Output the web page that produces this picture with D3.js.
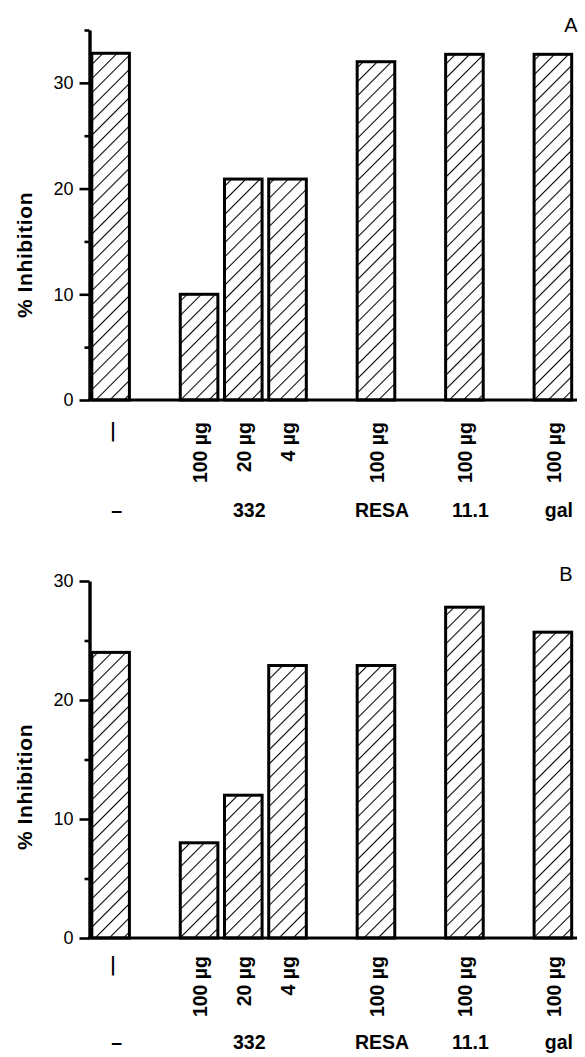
<!DOCTYPE html>
<html>
<head>
<meta charset="utf-8">
<script src="https://cdn.jsdelivr.net/npm/d3@7"></script>
<style>
  html, body { margin: 0; padding: 0; background: #fff; }
</style>
</head>
<body>
<div id="chart"></div>
<script>
(function() {
  var FONT = '"Liberation Sans", Arial, Helvetica, sans-serif';

  // slot index on the x axis for each bar (empty slots make the gaps)
  var slots = [0, 2, 3, 4, 6, 8, 10];
  var doseLabels = ['\u2014', '100 \u00b5g', '20 \u00b5g', '4 \u00b5g', '100 \u00b5g', '100 \u00b5g', '100 \u00b5g'];
  var groupNames = ['\u2013', '332', 'RESA', '11.1', 'gal'];
  var groupSlots = [0, 3, 6, 8, 10];

  var valuesA = [32.8, 10, 20.9, 20.9, 32, 32.7, 32.7];
  var valuesB = [24, 8, 12, 22.9, 22.9, 27.8, 25.7];

  var majorTicks = [0, 10, 20, 30];
  var minorTicksA = [5, 15, 25, 35];
  var minorTicksB = [5, 15, 25];

  var w = 585, h = 1057;
  var svg = d3.select('#chart').append('svg').attr('width', w).attr('height', h);

  // hatch fill
  svg.append('defs').append('pattern')
    .attr('id', 'hatch').attr('patternUnits', 'userSpaceOnUse')
    .attr('width', 10).attr('height', 10)
    .attr('patternTransform', 'rotate(45)')
    .call(function(p) {
      p.append('rect').attr('width', 10).attr('height', 10).attr('fill', '#fff');
      p.append('line').attr('x1', 0).attr('y1', 0).attr('x2', 0).attr('y2', 10)
        .attr('stroke', '#000').attr('stroke-width', 2.1);
    });

  var x = d3.scaleBand().domain(d3.range(11)).range([88.5, 575])
    .paddingInner(0.15).paddingOuter(0.075);
  var bw = x.bandwidth();

  var panels = [
    { letter: 'A', values: valuesA, max: 35, minor: minorTicksA, top: 30, base: 400,
      letterX: 571, letterY: 32, titleY: 255, doseOff: 22, groupOff: 117 },
    { letter: 'B', values: valuesB, max: 30, minor: minorTicksB, top: 581, base: 938,
      letterX: 566, letterY: 581, titleY: 787, doseOff: 18, groupOff: 111 }
  ];

  panels.forEach(function(p) {
    var y = d3.scaleLinear().domain([0, p.max]).range([p.base, p.top]);
    var g = svg.append('g');

    // bars
    p.values.forEach(function(v, i) {
      g.append('rect')
        .attr('x', x(slots[i])).attr('y', y(v))
        .attr('width', bw).attr('height', y(0) - y(v))
        .attr('fill', 'url(#hatch)')
        .attr('stroke', '#000').attr('stroke-width', 3);
    });

    // x baseline
    g.append('line').attr('x1', 88).attr('x2', 577)
      .attr('y1', y(0)).attr('y2', y(0))
      .attr('stroke', '#000').attr('stroke-width', 3.2);

    // y axis, major ticks
    g.append('g').attr('transform', 'translate(89.5,0)')
      .call(d3.axisLeft(y).tickValues(majorTicks).tickSize(10).tickSizeOuter(0).tickPadding(6))
      .call(function(a) { a.select('.domain').attr('stroke', '#000').attr('stroke-width', 3.4); })
      .call(function(a) { a.selectAll('.tick line').attr('stroke', '#000').attr('stroke-width', 2.6); })
      .call(function(a) { a.selectAll('.tick text').attr('fill', '#000').attr('font-size', '18px')
        .attr('font-family', FONT); });

    // minor ticks
    g.append('g').attr('transform', 'translate(89.5,0)')
      .call(d3.axisLeft(y).tickValues(p.minor).tickSize(5).tickFormat(''))
      .call(function(a) { a.select('.domain').remove(); })
      .call(function(a) { a.selectAll('.tick line').attr('stroke', '#000').attr('stroke-width', 2.6); });

    // y title
    svg.append('text')
      .attr('transform', 'translate(25,' + p.titleY + ') rotate(-90)')
      .attr('dy', '0.35em').attr('text-anchor', 'middle')
      .attr('font-family', FONT).attr('font-size', '21px').attr('font-weight', 'bold')
      .attr('letter-spacing', '0.6px')
      .text('% Inhibition');

    // panel letter
    svg.append('text').attr('x', p.letterX).attr('y', p.letterY)
      .attr('text-anchor', 'middle').attr('font-family', FONT).attr('font-size', '20px')
      .text(p.letter);

    // dose labels (rotated)
    doseLabels.forEach(function(t, i) {
      var cx = x(slots[i]) + bw / 2;
      svg.append('text')
        .attr('transform', 'translate(' + (cx + 1) + ',' + (y(0) + p.doseOff) + ') rotate(-90)')
        .attr('dy', '0.35em').attr('text-anchor', 'end')
        .attr('font-family', FONT).attr('font-size', '19.5px').attr('font-weight', 'bold')
        .text(t);
    });

    // group labels
    groupNames.forEach(function(t, i) {
      var cx = x(groupSlots[i]) + bw / 2;
      svg.append('text')
        .attr('x', cx + 6).attr('y', y(0) + p.groupOff)
        .attr('text-anchor', 'middle')
        .attr('font-family', FONT).attr('font-size', '19.5px').attr('font-weight', 'bold')
        .text(t);
    });
  });
})();
</script>
</body>
</html>
